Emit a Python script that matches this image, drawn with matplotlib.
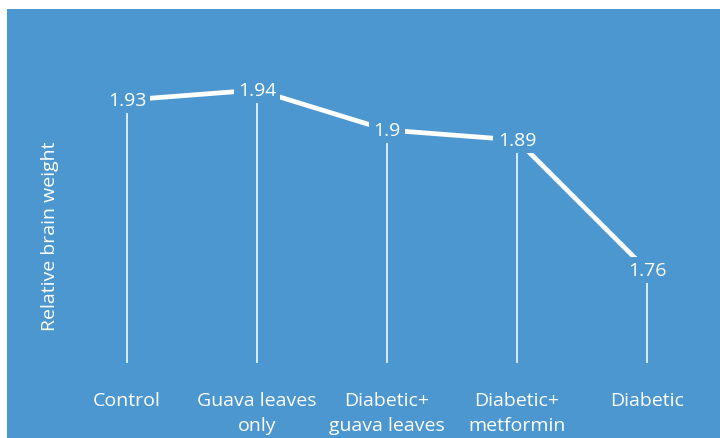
import matplotlib
matplotlib.use("Agg")
import matplotlib.pyplot as plt

# Relative brain weight per treatment group
categories = ["Control", "Guava leaves\nonly", "Diabetic+\nguava leaves",
              "Diabetic+\nmetformin", "Diabetic"]
values = [1.93, 1.94, 1.90, 1.89, 1.76]
value_labels = ["1.93", "1.94", "1.9", "1.89", "1.76"]

BG = "#4C97D0"
FG = "white"
FS = 14
plt.rcParams["font.family"] = ["Open Sans", "DejaVu Sans"]

fig = plt.figure(figsize=(7.2, 4.39), dpi=100, facecolor="white")
ax = fig.add_axes([7 / 720, 0, 713 / 720, 429 / 439], facecolor=BG)

x = list(range(len(categories)))
baseline = 1.667

# drop lines from each point to the baseline
ax.vlines(x, baseline, values, colors=FG, linewidth=1.1, zorder=1)
# connecting line
ax.plot(x, values, color=FG, linewidth=3.4, solid_capstyle="butt", zorder=2)

# value labels sit on the points, masking the line underneath
for xi, v, lab in zip(x, values, value_labels):
    ax.text(xi, v, lab, ha="center", va="center", color=FG, fontsize=FS,
            zorder=3,
            bbox=dict(boxstyle="square,pad=0.22", facecolor=BG, edgecolor="none"))

ax.set_xlim(-0.923, 4.562)
ax.set_ylim(1.592, 2.021)

ax.spines["bottom"].set_position(("data", baseline))
for s in ax.spines.values():
    s.set_visible(False)
ax.tick_params(axis="x", length=0, pad=20, labelcolor=FG, labelsize=FS)
ax.set_xticks(x)
ax.set_xticklabels(categories, linespacing=1.5)
ax.set_yticks([])

ax.text(0.061, 0.473, "Relative brain weight", transform=ax.transAxes,
        rotation=90, ha="center", va="center", color=FG, fontsize=FS)

fig.savefig("out.png", dpi=100, facecolor=fig.get_facecolor())
